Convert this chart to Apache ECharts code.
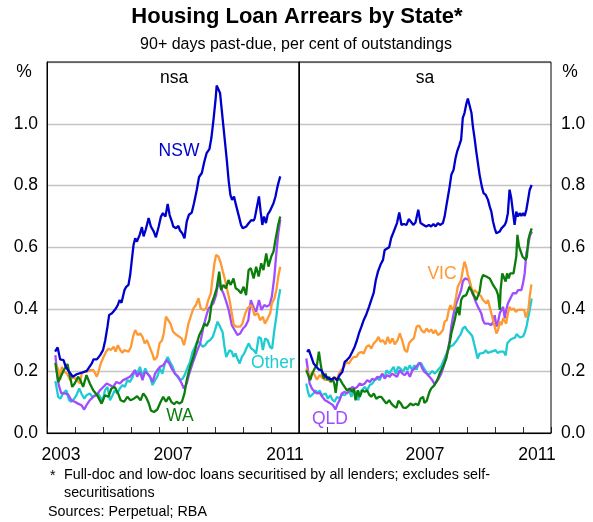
<!DOCTYPE html>
<html><head><meta charset="utf-8">
<script src="https://cdn.jsdelivr.net/npm/echarts@6/dist/echarts.min.js"></script>
<style>html,body{margin:0;padding:0;background:#fff}#c{width:593px;height:522px}</style>
</head><body><div id="c"></div>
<script>
// x values: years after January 2003 (0 = Jan 2003, 9 = Jan 2012); y values: per cent
const yearLabels = ['2003','2004','2005','2006','2007','2008','2009','2010','2011'];
const yTicks = [0, 0.2, 0.4, 0.6, 0.8, 1.0];

// ---- nsa panel ----
const nsaNSW = [[0.29,0.263],[0.38,0.277],[0.47,0.238],[0.59,0.236],[0.67,0.214],[0.77,0.201],[0.92,0.182],[1.06,0.190],[1.24,0.195],[1.42,0.201],[1.60,0.225],[1.66,0.238],[1.78,0.238],[1.90,0.252],[2.00,0.268],[2.08,0.30],[2.16,0.344],[2.22,0.382],[2.32,0.387],[2.44,0.40],[2.53,0.414],[2.59,0.43],[2.66,0.421],[2.77,0.463],[2.83,0.473],[2.91,0.479],[2.97,0.511],[3.03,0.56],[3.09,0.608],[3.15,0.63],[3.21,0.619],[3.31,0.641],[3.39,0.666],[3.45,0.636],[3.53,0.659],[3.63,0.695],[3.71,0.668],[3.81,0.652],[3.89,0.633],[3.99,0.668],[4.07,0.70],[4.14,0.711],[4.23,0.70],[4.31,0.741],[4.38,0.705],[4.46,0.684],[4.51,0.668],[4.61,0.662],[4.69,0.670],[4.75,0.655],[4.83,0.646],[4.91,0.630],[4.99,0.684],[5.07,0.706],[5.17,0.713],[5.25,0.743],[5.35,0.787],[5.43,0.828],[5.53,0.841],[5.62,0.878],[5.70,0.905],[5.80,0.918],[5.87,0.954],[5.94,1.008],[6.02,1.078],[6.06,1.124],[6.13,1.130],[6.18,1.10],[6.24,1.046],[6.30,0.992],[6.36,0.938],[6.42,0.884],[6.49,0.814],[6.55,0.770],[6.61,0.754],[6.68,0.765],[6.74,0.741],[6.81,0.716],[6.87,0.695],[6.93,0.673],[6.99,0.662],[7.06,0.668],[7.12,0.668],[7.18,0.676],[7.24,0.673],[7.30,0.689],[7.38,0.687],[7.42,0.695],[7.49,0.691],[7.57,0.765],[7.63,0.716],[7.69,0.673],[7.75,0.700],[7.82,0.679],[7.88,0.706],[7.95,0.716],[8.02,0.722],[8.09,0.743],[8.16,0.765],[8.22,0.792],[8.28,0.814],[8.33,0.830]];
const nsaVIC = [[0.31,0.225],[0.41,0.203],[0.47,0.171],[0.53,0.214],[0.61,0.198],[0.71,0.193],[0.83,0.171],[0.94,0.182],[1.06,0.171],[1.18,0.160],[1.24,0.193],[1.33,0.198],[1.42,0.198],[1.54,0.203],[1.66,0.203],[1.78,0.182],[1.84,0.198],[1.92,0.225],[2.02,0.246],[2.11,0.263],[2.20,0.273],[2.28,0.268],[2.38,0.279],[2.45,0.263],[2.53,0.284],[2.62,0.268],[2.69,0.259],[2.76,0.268],[2.83,0.273],[2.91,0.263],[3.00,0.279],[3.07,0.311],[3.15,0.333],[3.24,0.317],[3.33,0.322],[3.41,0.311],[3.49,0.290],[3.57,0.300],[3.64,0.284],[3.71,0.279],[3.78,0.252],[3.83,0.236],[3.93,0.246],[4.02,0.290],[4.11,0.300],[4.17,0.322],[4.25,0.376],[4.32,0.379],[4.41,0.354],[4.50,0.328],[4.63,0.317],[4.73,0.311],[4.81,0.306],[4.89,0.284],[4.95,0.306],[5.05,0.354],[5.13,0.376],[5.23,0.403],[5.32,0.414],[5.41,0.436],[5.49,0.403],[5.59,0.398],[5.68,0.403],[5.76,0.430],[5.85,0.452],[5.92,0.506],[5.98,0.549],[6.04,0.576],[6.12,0.571],[6.21,0.549],[6.28,0.522],[6.36,0.495],[6.44,0.462],[6.52,0.430],[6.60,0.387],[6.66,0.354],[6.74,0.344],[6.81,0.338],[6.90,0.344],[6.98,0.354],[7.08,0.387],[7.16,0.403],[7.23,0.398],[7.29,0.414],[7.35,0.403],[7.41,0.381],[7.47,0.376],[7.53,0.387],[7.61,0.365],[7.71,0.376],[7.78,0.354],[7.85,0.365],[7.91,0.376],[7.97,0.387],[8.03,0.419],[8.12,0.435],[8.19,0.462],[8.26,0.506],[8.33,0.538]];
const nsaQLD = [[0.30,0.252],[0.36,0.192],[0.42,0.155],[0.51,0.128],[0.63,0.128],[0.75,0.125],[0.87,0.106],[0.99,0.101],[1.11,0.095],[1.23,0.090],[1.33,0.076],[1.41,0.090],[1.53,0.106],[1.65,0.117],[1.77,0.122],[1.89,0.138],[2.01,0.149],[2.13,0.160],[2.24,0.155],[2.36,0.149],[2.48,0.165],[2.60,0.160],[2.72,0.171],[2.84,0.176],[2.96,0.182],[3.06,0.192],[3.14,0.203],[3.22,0.182],[3.32,0.198],[3.41,0.171],[3.50,0.198],[3.59,0.192],[3.68,0.182],[3.77,0.165],[3.86,0.192],[3.94,0.203],[4.03,0.214],[4.15,0.219],[4.27,0.236],[4.37,0.225],[4.45,0.209],[4.57,0.192],[4.69,0.182],[4.81,0.160],[4.89,0.144],[4.99,0.160],[5.08,0.192],[5.20,0.225],[5.35,0.263],[5.47,0.290],[5.59,0.344],[5.68,0.376],[5.77,0.403],[5.85,0.411],[5.94,0.419],[6.04,0.446],[6.12,0.490],[6.21,0.468],[6.30,0.452],[6.40,0.425],[6.49,0.398],[6.60,0.349],[6.70,0.333],[6.80,0.317],[6.90,0.322],[7.00,0.338],[7.09,0.346],[7.19,0.365],[7.28,0.430],[7.38,0.406],[7.47,0.392],[7.57,0.430],[7.66,0.398],[7.76,0.414],[7.85,0.409],[7.95,0.414],[8.03,0.441],[8.12,0.506],[8.19,0.581],[8.26,0.646],[8.33,0.690]];
const nsaWA = [[0.30,0.227],[0.40,0.165],[0.49,0.182],[0.60,0.203],[0.73,0.223],[0.81,0.187],[0.90,0.149],[0.99,0.160],[1.11,0.182],[1.19,0.171],[1.29,0.149],[1.41,0.187],[1.53,0.160],[1.65,0.138],[1.79,0.122],[1.95,0.095],[2.07,0.122],[2.19,0.117],[2.30,0.144],[2.42,0.149],[2.54,0.128],[2.63,0.106],[2.75,0.101],[2.87,0.117],[2.98,0.106],[3.10,0.111],[3.22,0.119],[3.34,0.106],[3.44,0.128],[3.53,0.117],[3.63,0.097],[3.71,0.073],[3.82,0.068],[3.94,0.076],[4.06,0.101],[4.15,0.117],[4.25,0.101],[4.35,0.117],[4.44,0.101],[4.54,0.093],[4.63,0.101],[4.73,0.095],[4.82,0.101],[4.91,0.128],[4.99,0.171],[5.11,0.214],[5.23,0.246],[5.35,0.290],[5.44,0.317],[5.54,0.335],[5.62,0.354],[5.71,0.346],[5.80,0.365],[5.88,0.419],[5.97,0.441],[6.06,0.468],[6.15,0.522],[6.22,0.462],[6.30,0.479],[6.39,0.468],[6.48,0.495],[6.56,0.479],[6.66,0.500],[6.74,0.468],[6.84,0.462],[6.93,0.452],[7.02,0.473],[7.11,0.446],[7.20,0.527],[7.28,0.533],[7.38,0.500],[7.47,0.538],[7.56,0.506],[7.65,0.549],[7.73,0.527],[7.83,0.581],[7.91,0.538],[8.01,0.571],[8.09,0.587],[8.16,0.625],[8.25,0.670],[8.33,0.700]];
const nsaOther = [[0.30,0.168],[0.40,0.117],[0.48,0.111],[0.57,0.128],[0.69,0.138],[0.79,0.106],[0.87,0.101],[0.97,0.111],[1.05,0.122],[1.15,0.144],[1.23,0.128],[1.33,0.111],[1.41,0.122],[1.53,0.128],[1.62,0.117],[1.72,0.122],[1.82,0.128],[1.91,0.115],[1.98,0.101],[2.07,0.138],[2.16,0.149],[2.25,0.106],[2.34,0.122],[2.42,0.138],[2.51,0.128],[2.60,0.144],[2.70,0.155],[2.78,0.149],[2.87,0.171],[2.96,0.165],[3.06,0.182],[3.14,0.203],[3.22,0.192],[3.32,0.214],[3.41,0.182],[3.51,0.209],[3.59,0.192],[3.68,0.182],[3.77,0.155],[3.86,0.171],[3.94,0.182],[4.03,0.209],[4.12,0.192],[4.21,0.225],[4.31,0.246],[4.39,0.230],[4.49,0.214],[4.57,0.192],[4.66,0.182],[4.75,0.171],[4.85,0.176],[4.94,0.192],[5.03,0.214],[5.11,0.230],[5.20,0.263],[5.29,0.279],[5.37,0.295],[5.47,0.290],[5.56,0.279],[5.65,0.284],[5.73,0.295],[5.82,0.300],[5.92,0.311],[6.00,0.333],[6.09,0.360],[6.18,0.344],[6.27,0.327],[6.34,0.279],[6.40,0.246],[6.46,0.257],[6.52,0.268],[6.60,0.263],[6.66,0.246],[6.73,0.257],[6.80,0.241],[6.88,0.225],[6.96,0.246],[7.04,0.257],[7.11,0.263],[7.20,0.290],[7.29,0.273],[7.38,0.268],[7.47,0.257],[7.56,0.311],[7.64,0.306],[7.71,0.268],[7.79,0.306],[7.88,0.300],[7.96,0.279],[8.04,0.273],[8.12,0.333],[8.19,0.376],[8.26,0.430],[8.33,0.465]];

// ---- sa panel ----
const saNSW = [[0.29,0.262],[0.35,0.270],[0.44,0.246],[0.52,0.225],[0.62,0.214],[0.70,0.206],[0.80,0.203],[0.88,0.190],[0.97,0.182],[1.07,0.176],[1.16,0.173],[1.26,0.179],[1.36,0.171],[1.45,0.187],[1.55,0.198],[1.63,0.230],[1.71,0.236],[1.81,0.246],[1.90,0.262],[1.99,0.279],[2.07,0.300],[2.14,0.322],[2.23,0.344],[2.31,0.365],[2.41,0.385],[2.50,0.408],[2.58,0.430],[2.67,0.454],[2.74,0.493],[2.82,0.522],[2.91,0.544],[3.00,0.560],[3.06,0.592],[3.12,0.598],[3.22,0.601],[3.29,0.630],[3.36,0.646],[3.43,0.651],[3.50,0.679],[3.58,0.713],[3.66,0.673],[3.74,0.676],[3.84,0.673],[3.92,0.692],[3.99,0.684],[4.08,0.673],[4.16,0.681],[4.26,0.722],[4.34,0.679],[4.45,0.673],[4.54,0.668],[4.64,0.673],[4.72,0.668],[4.80,0.676],[4.88,0.668],[4.96,0.679],[5.04,0.673],[5.14,0.679],[5.20,0.700],[5.26,0.733],[5.32,0.765],[5.38,0.797],[5.44,0.835],[5.52,0.851],[5.59,0.889],[5.65,0.911],[5.73,0.932],[5.79,0.949],[5.85,1.019],[5.91,1.035],[5.97,1.062],[6.03,1.082],[6.10,1.081],[6.16,1.035],[6.21,0.992],[6.27,0.954],[6.33,0.911],[6.39,0.873],[6.45,0.835],[6.53,0.797],[6.59,0.776],[6.67,0.770],[6.75,0.754],[6.81,0.733],[6.87,0.716],[6.93,0.684],[6.99,0.662],[7.05,0.646],[7.11,0.646],[7.17,0.652],[7.23,0.662],[7.29,0.668],[7.35,0.673],[7.40,0.684],[7.46,0.711],[7.52,0.787],[7.58,0.760],[7.64,0.716],[7.70,0.673],[7.76,0.716],[7.82,0.700],[7.88,0.711],[7.94,0.702],[8.00,0.711],[8.06,0.702],[8.12,0.722],[8.18,0.754],[8.24,0.787],[8.31,0.802]];
const saVIC = [[0.26,0.209],[0.33,0.203],[0.40,0.176],[0.47,0.198],[0.56,0.187],[0.64,0.173],[0.74,0.187],[0.83,0.179],[0.93,0.171],[1.02,0.176],[1.12,0.165],[1.19,0.160],[1.26,0.182],[1.34,0.171],[1.43,0.192],[1.51,0.203],[1.61,0.214],[1.69,0.230],[1.79,0.225],[1.87,0.238],[1.95,0.246],[2.05,0.246],[2.14,0.259],[2.23,0.262],[2.31,0.257],[2.41,0.279],[2.50,0.284],[2.58,0.273],[2.67,0.290],[2.76,0.298],[2.84,0.311],[2.91,0.295],[3.00,0.300],[3.09,0.287],[3.17,0.311],[3.25,0.290],[3.34,0.306],[3.42,0.287],[3.52,0.300],[3.60,0.322],[3.69,0.298],[3.78,0.268],[3.86,0.262],[3.93,0.290],[4.02,0.300],[4.10,0.306],[4.20,0.344],[4.29,0.348],[4.37,0.333],[4.47,0.325],[4.56,0.338],[4.64,0.327],[4.72,0.335],[4.80,0.322],[4.87,0.333],[4.96,0.317],[5.04,0.322],[5.14,0.333],[5.20,0.360],[5.28,0.365],[5.35,0.398],[5.41,0.414],[5.47,0.398],[5.54,0.408],[5.61,0.441],[5.67,0.473],[5.73,0.468],[5.79,0.495],[5.85,0.527],[5.91,0.554],[5.97,0.538],[6.03,0.511],[6.09,0.495],[6.15,0.473],[6.21,0.452],[6.27,0.462],[6.33,0.468],[6.39,0.452],[6.45,0.446],[6.51,0.441],[6.57,0.430],[6.63,0.430],[6.69,0.419],[6.75,0.430],[6.81,0.408],[6.87,0.387],[6.93,0.365],[6.99,0.344],[7.05,0.322],[7.11,0.333],[7.17,0.360],[7.23,0.349],[7.29,0.371],[7.35,0.376],[7.40,0.354],[7.46,0.387],[7.52,0.408],[7.58,0.398],[7.67,0.403],[7.74,0.392],[7.82,0.398],[7.91,0.398],[7.98,0.392],[8.04,0.398],[8.10,0.374],[8.15,0.387],[8.19,0.398],[8.24,0.441],[8.30,0.481]];
const saQLD = [[0.26,0.241],[0.32,0.203],[0.38,0.160],[0.46,0.144],[0.56,0.133],[0.64,0.128],[0.74,0.130],[0.83,0.117],[0.93,0.106],[1.03,0.101],[1.13,0.095],[1.21,0.090],[1.30,0.076],[1.38,0.095],[1.45,0.106],[1.53,0.128],[1.63,0.133],[1.71,0.128],[1.81,0.138],[1.90,0.149],[1.99,0.144],[2.08,0.149],[2.17,0.160],[2.26,0.155],[2.35,0.160],[2.44,0.171],[2.53,0.165],[2.62,0.176],[2.70,0.171],[2.80,0.182],[2.88,0.179],[2.98,0.192],[3.06,0.176],[3.15,0.187],[3.24,0.182],[3.32,0.192],[3.42,0.187],[3.50,0.182],[3.60,0.203],[3.69,0.192],[3.78,0.187],[3.87,0.198],[3.96,0.182],[4.05,0.203],[4.14,0.209],[4.23,0.219],[4.32,0.227],[4.40,0.209],[4.48,0.198],[4.56,0.192],[4.66,0.182],[4.76,0.171],[4.84,0.158],[4.92,0.166],[4.99,0.176],[5.08,0.192],[5.16,0.214],[5.23,0.236],[5.32,0.268],[5.38,0.300],[5.44,0.344],[5.50,0.376],[5.58,0.408],[5.64,0.425],[5.71,0.441],[5.79,0.462],[5.85,0.490],[5.93,0.500],[6.00,0.503],[6.07,0.495],[6.13,0.473],[6.19,0.452],[6.25,0.441],[6.31,0.425],[6.39,0.408],[6.45,0.398],[6.51,0.387],[6.57,0.365],[6.63,0.354],[6.69,0.349],[6.75,0.354],[6.81,0.357],[6.87,0.349],[6.93,0.360],[6.99,0.381],[7.05,0.344],[7.11,0.360],[7.17,0.387],[7.23,0.398],[7.29,0.408],[7.35,0.371],[7.40,0.398],[7.46,0.419],[7.52,0.430],[7.58,0.430],[7.64,0.452],[7.70,0.446],[7.76,0.452],[7.82,0.462],[7.88,0.457],[7.94,0.462],[8.00,0.484],[8.06,0.516],[8.12,0.581],[8.18,0.603],[8.24,0.636],[8.32,0.652]];
const saWA = [[0.26,0.203],[0.33,0.187],[0.40,0.171],[0.47,0.192],[0.56,0.209],[0.64,0.219],[0.71,0.263],[0.77,0.225],[0.83,0.192],[0.89,0.176],[0.95,0.192],[1.01,0.171],[1.08,0.182],[1.14,0.165],[1.20,0.176],[1.26,0.160],[1.31,0.130],[1.37,0.171],[1.45,0.176],[1.55,0.160],[1.63,0.149],[1.71,0.138],[1.81,0.144],[1.89,0.133],[1.96,0.144],[2.02,0.106],[2.10,0.138],[2.17,0.117],[2.26,0.138],[2.35,0.133],[2.43,0.138],[2.50,0.125],[2.58,0.117],[2.67,0.128],[2.76,0.111],[2.86,0.117],[2.94,0.117],[3.03,0.106],[3.12,0.095],[3.22,0.106],[3.30,0.095],[3.38,0.087],[3.48,0.082],[3.55,0.104],[3.64,0.095],[3.72,0.082],[3.81,0.081],[3.90,0.087],[3.98,0.095],[4.08,0.090],[4.17,0.095],[4.26,0.090],[4.34,0.111],[4.43,0.117],[4.48,0.097],[4.56,0.104],[4.66,0.133],[4.72,0.144],[4.78,0.138],[4.84,0.155],[4.90,0.166],[4.96,0.176],[5.02,0.192],[5.08,0.203],[5.14,0.214],[5.20,0.227],[5.26,0.241],[5.32,0.268],[5.38,0.290],[5.44,0.322],[5.50,0.344],[5.56,0.365],[5.61,0.387],[5.67,0.408],[5.73,0.381],[5.79,0.430],[5.85,0.441],[5.91,0.441],[5.97,0.446],[6.03,0.452],[6.09,0.473],[6.15,0.468],[6.21,0.452],[6.27,0.452],[6.33,0.430],[6.39,0.425],[6.45,0.457],[6.51,0.495],[6.57,0.511],[6.63,0.516],[6.69,0.506],[6.75,0.511],[6.81,0.500],[6.87,0.490],[6.93,0.479],[6.99,0.473],[7.05,0.462],[7.11,0.446],[7.17,0.398],[7.20,0.462],[7.26,0.516],[7.32,0.511],[7.38,0.490],[7.43,0.516],[7.49,0.500],[7.54,0.516],[7.60,0.522],[7.66,0.516],[7.71,0.516],[7.76,0.571],[7.80,0.641],[7.86,0.603],[7.92,0.598],[7.98,0.571],[8.04,0.565],[8.10,0.560],[8.14,0.571],[8.19,0.625],[8.25,0.646],[8.31,0.662]];
const saOther = [[0.26,0.160],[0.32,0.133],[0.38,0.117],[0.45,0.117],[0.52,0.128],[0.59,0.138],[0.66,0.128],[0.74,0.138],[0.81,0.122],[0.88,0.117],[0.95,0.128],[1.03,0.111],[1.12,0.122],[1.19,0.108],[1.27,0.101],[1.36,0.117],[1.45,0.111],[1.53,0.125],[1.63,0.122],[1.71,0.130],[1.79,0.136],[1.87,0.117],[1.95,0.138],[2.05,0.128],[2.12,0.106],[2.19,0.133],[2.26,0.128],[2.35,0.149],[2.43,0.138],[2.53,0.155],[2.62,0.160],[2.70,0.171],[2.80,0.176],[2.88,0.171],[2.97,0.190],[3.06,0.182],[3.13,0.203],[3.22,0.192],[3.30,0.203],[3.38,0.214],[3.46,0.192],[3.54,0.214],[3.62,0.209],[3.72,0.198],[3.80,0.214],[3.87,0.203],[3.96,0.219],[4.04,0.203],[4.12,0.219],[4.20,0.205],[4.28,0.227],[4.37,0.225],[4.44,0.212],[4.52,0.201],[4.60,0.190],[4.68,0.192],[4.76,0.201],[4.84,0.192],[4.92,0.199],[4.99,0.207],[5.08,0.216],[5.14,0.230],[5.21,0.244],[5.28,0.259],[5.35,0.273],[5.42,0.281],[5.50,0.284],[5.57,0.290],[5.64,0.300],[5.71,0.311],[5.78,0.320],[5.85,0.338],[5.93,0.344],[6.00,0.333],[6.07,0.338],[6.13,0.320],[6.19,0.313],[6.25,0.290],[6.31,0.268],[6.38,0.241],[6.45,0.257],[6.52,0.263],[6.59,0.259],[6.67,0.268],[6.74,0.259],[6.81,0.255],[6.88,0.263],[6.95,0.262],[7.02,0.268],[7.09,0.259],[7.17,0.263],[7.24,0.259],[7.31,0.263],[7.38,0.251],[7.44,0.290],[7.50,0.295],[7.57,0.303],[7.64,0.300],[7.72,0.309],[7.77,0.320],[7.83,0.322],[7.89,0.309],[7.95,0.306],[8.01,0.313],[8.07,0.327],[8.13,0.346],[8.19,0.376],[8.25,0.403],[8.31,0.435]];

const COL = {NSW:'#0000CC', VIC:'#FF9933', QLD:'#9F4DFF', WA:'#0B7D0B', Other:'#1ECBD2'};
const FONT = 'Arial, "Liberation Sans", sans-serif';

const chart = echarts.init(document.getElementById('c'), null, {renderer:'canvas'});

const grids = [
  {left:47, top:62, width:252, height:371, show:true, borderColor:'#000', borderWidth:1, z:3},
  {left:299, top:62, width:252, height:371, show:true, borderColor:'#000', borderWidth:1, z:3}
];
function valX(i){return {type:'value', gridIndex:i, min:0, max:9, show:false, position:'bottom'};}
function catX(i){return {type:'category', gridIndex:i, data:yearLabels, boundaryGap:true, position:'bottom',
  axisLine:{show:true, onZero:false, lineStyle:{color:'#000', width:1}},
  axisTick:{show:true, inside:true, length:6, interval:0, lineStyle:{color:'#333'}},
  axisLabel:{interval:0, margin:13, color:'#000', fontSize:17.5, fontFamily:FONT,
    formatter:(v,idx)=> (idx%4===0 && !(i===1 && idx===0)) ? v : ''},
  splitLine:{show:false}};}
function yAx(i){return {type:'value', gridIndex:i, min:0, max:1.2, interval:0.2, position: i===0?'left':'right',
  axisLine:{show:true, lineStyle:{color:'#000'}}, axisTick:{show:false},
  axisLabel:{color:'#000', fontSize:17.5, fontFamily:FONT, margin:i===0?9:10,
    formatter:v=> v>1.1 ? '' : v.toFixed(1)},
  splitLine:{show:true, lineStyle:{color:'#c4c4c4', width:1.3}}};}

function line(name, data, gi, z){
  return {type:'line', name, data, xAxisIndex: gi===0?0:2, yAxisIndex:gi, showSymbol:false, symbol:'none',
    lineStyle:{color:COL[name], width:2.3}, itemStyle:{color:COL[name]}, z:z, animation:false};
}

const txt = (x,y,s,opt={}) => ({type:'text', x, y, style:Object.assign({text:s, fill:'#000', font:'15px '+FONT, textAlign:'center', textVerticalAlign:'middle'}, opt), z:10});

chart.setOption({
  animation:false,
  grid: grids,
  xAxis:[valX(0), catX(0), valX(1), catX(1)],
  yAxis:[yAx(0), yAx(1)],
  series:[
    line('Other', nsaOther, 0, 2), line('QLD', nsaQLD, 0, 3), line('VIC', nsaVIC, 0, 4), line('WA', nsaWA, 0, 5), line('NSW', nsaNSW, 0, 6),
    line('Other', saOther, 1, 2), line('QLD', saQLD, 1, 3), line('VIC', saVIC, 1, 4), line('WA', saWA, 1, 5), line('NSW', saNSW, 1, 6)
  ],
  graphic:[
    txt(297,17,'Housing Loan Arrears by State*',{font:'bold 22px '+FONT}),
    txt(296,45,'90+ days past-due, per cent of outstandings',{font:'16px '+FONT}),
    txt(24,72,'%',{font:'17.5px '+FONT}),
    txt(570,72,'%',{font:'17.5px '+FONT}),
    txt(174,78,'nsa',{font:'17.5px '+FONT}),
    txt(425,78,'sa',{font:'17.5px '+FONT}),
    txt(179,151,'NSW',{fill:COL.NSW, font:'17.5px '+FONT}),
    txt(273,363,'Other',{fill:COL.Other, font:'17.5px '+FONT}),
    txt(180,416,'WA',{fill:COL.WA, font:'17.5px '+FONT}),
    txt(442,274,'VIC',{fill:COL.VIC, font:'17.5px '+FONT}),
    txt(330,419,'QLD',{fill:COL.QLD, font:'17.5px '+FONT}),
    txt(50,476,'*',{font:'14px '+FONT, textAlign:'left'}),
    txt(64,475,'Full-doc and low-doc loans securitised by all lenders; excludes self-',{font:'14.3px '+FONT, textAlign:'left'}),
    txt(64,493,'securitisations',{font:'14.3px '+FONT, textAlign:'left'}),
    txt(48,512,'Sources: Perpetual; RBA',{font:'14.3px '+FONT, textAlign:'left'})
  ]
});
</script></body></html>
